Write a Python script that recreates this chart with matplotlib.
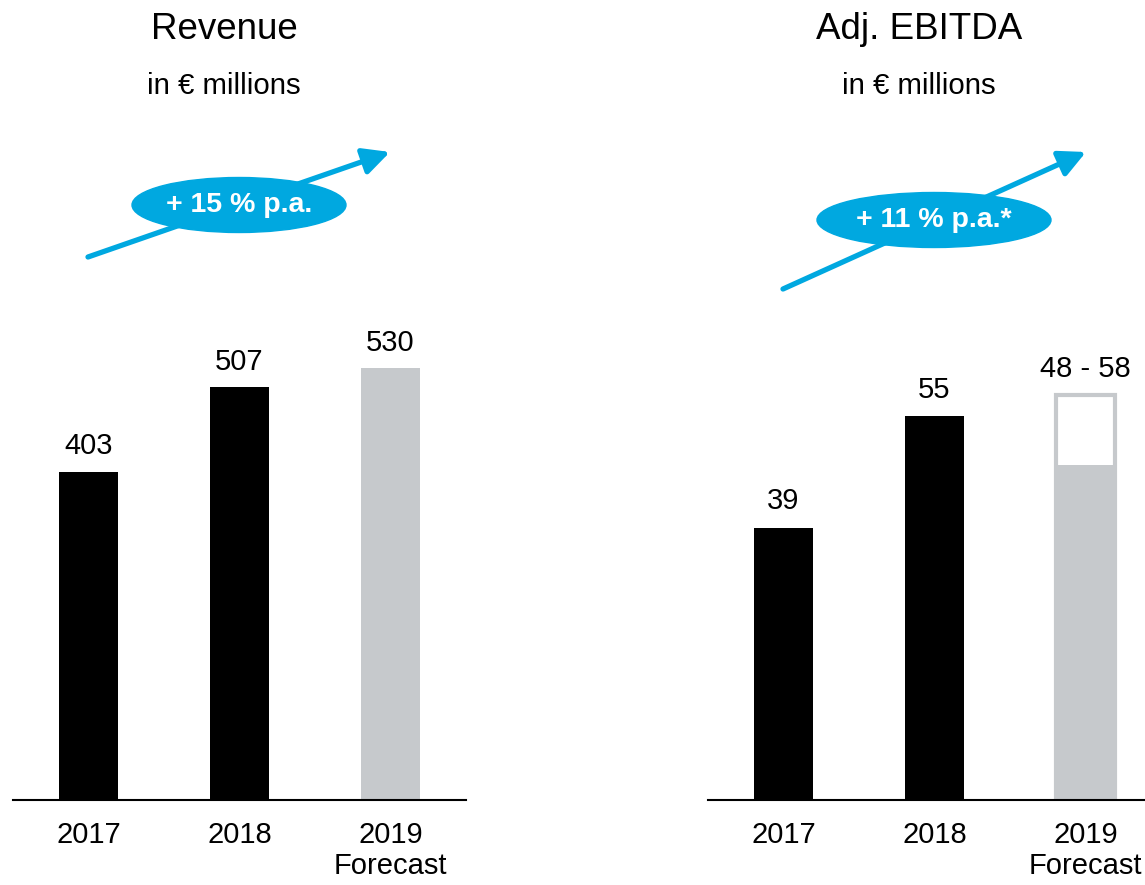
import matplotlib
matplotlib.use('Agg')
import matplotlib.pyplot as plt
from matplotlib.patches import Ellipse

plt.rcParams['font.family'] = ['Liberation Sans', 'DejaVu Sans']

# data
years = ['2017', '2018', '2019\nForecast']
revenue = [403, 507, 530]
revenue_labels = ['403', '507', '530']
ebitda = [39, 55]
ebitda_fc_low = 48
ebitda_fc_high = 58
ebitda_labels = ['39', '55', '48 - 58']
growth_labels = ['+ 15 % p.a.', '+ 11 % p.a.*']

BLACK = '#000000'
GREY = '#c6c9cc'
BLUE = '#00a8e0'

W, H = 1145, 885
fig = plt.figure(figsize=(W / 100, H / 100), dpi=100)


def fx(px):
    return px / W


def fy(py):
    return 1 - py / H


def setup_axes(ax, ymax):
    ax.set_xlim(-0.5, 2.5)
    ax.set_ylim(0, ymax)
    for s in ['top', 'right', 'left']:
        ax.spines[s].set_visible(False)
    ax.spines['bottom'].set_linewidth(1.5)
    ax.set_yticks([])
    ax.set_xticks(range(len(years)))
    ax.set_xticklabels(years, fontsize=21, linespacing=1.15)
    ax.tick_params(axis='x', length=0, pad=15)
    ax.patch.set_alpha(0)


bar_w = 0.385

# revenue panel
ax1 = fig.add_axes([fx(13), 85 / H, 453 / W, 800 / H])
setup_axes(ax1, 800 / 0.815)
ax1.bar([0, 1], revenue[:2], width=bar_w, color=BLACK)
ax1.bar([2], revenue[2:], width=bar_w, color=GREY)
for i, v in enumerate(revenue):
    ax1.annotate(revenue_labels[i], (i, v), xytext=(0, 8), textcoords='offset points',
                 ha='center', va='bottom', fontsize=21)

# ebitda panel
ax2 = fig.add_axes([fx(708), 85 / H, 453 / W, 800 / H])
setup_axes(ax2, 800 / 6.98)
ax2.bar([0, 1], ebitda, width=bar_w, color=BLACK)
ax2.bar([2], [ebitda_fc_high], width=bar_w, facecolor='white', edgecolor=GREY, linewidth=3)
ax2.bar([2], [ebitda_fc_low], width=bar_w + 0.01, color=GREY)
for i, v in enumerate(ebitda + [ebitda_fc_high]):
    ax2.annotate(ebitda_labels[i], (i, v), xytext=(0, 9), textcoords='offset points',
                 ha='center', va='bottom', fontsize=21)

# titles
fig.text(fx(224), fy(39), 'Revenue', ha='center', va='baseline', fontsize=26.5)
fig.text(fx(224), fy(94), 'in € millions', ha='center', va='baseline', fontsize=21.2)
fig.text(fx(919), fy(39), 'Adj. EBITDA', ha='center', va='baseline', fontsize=26.5)
fig.text(fx(919), fy(94), 'in € millions', ha='center', va='baseline', fontsize=21.2)

# growth arrows with ellipse badges
arrows = [((88, 257), (390, 152)), ((783, 289), (1086, 152))]
badges = [((239, 205), 214, 55), ((934, 220), 234, 55)]
for (start, tip), (cen, ew, eh), txt in zip(arrows, badges, growth_labels):
    fig.add_artist(plt.Annotation(
        '', xy=(fx(tip[0]), fy(tip[1])), xytext=(fx(start[0]), fy(start[1])),
        xycoords='figure fraction', textcoords='figure fraction',
        arrowprops=dict(arrowstyle='-|>,head_length=0.8,head_width=0.4',
                        lw=3.8, color=BLUE, shrinkA=0, shrinkB=0,
                        mutation_scale=20)))
    fig.add_artist(Ellipse((fx(cen[0]), fy(cen[1])), ew / W, eh / H,
                           transform=fig.transFigure, color=BLUE, zorder=3))
    fig.text(fx(cen[0]), fy(cen[1]), txt, ha='center', va='center',
             fontsize=20.5, fontweight='bold', color='white', zorder=4)

fig.savefig('out.png', dpi=100)
